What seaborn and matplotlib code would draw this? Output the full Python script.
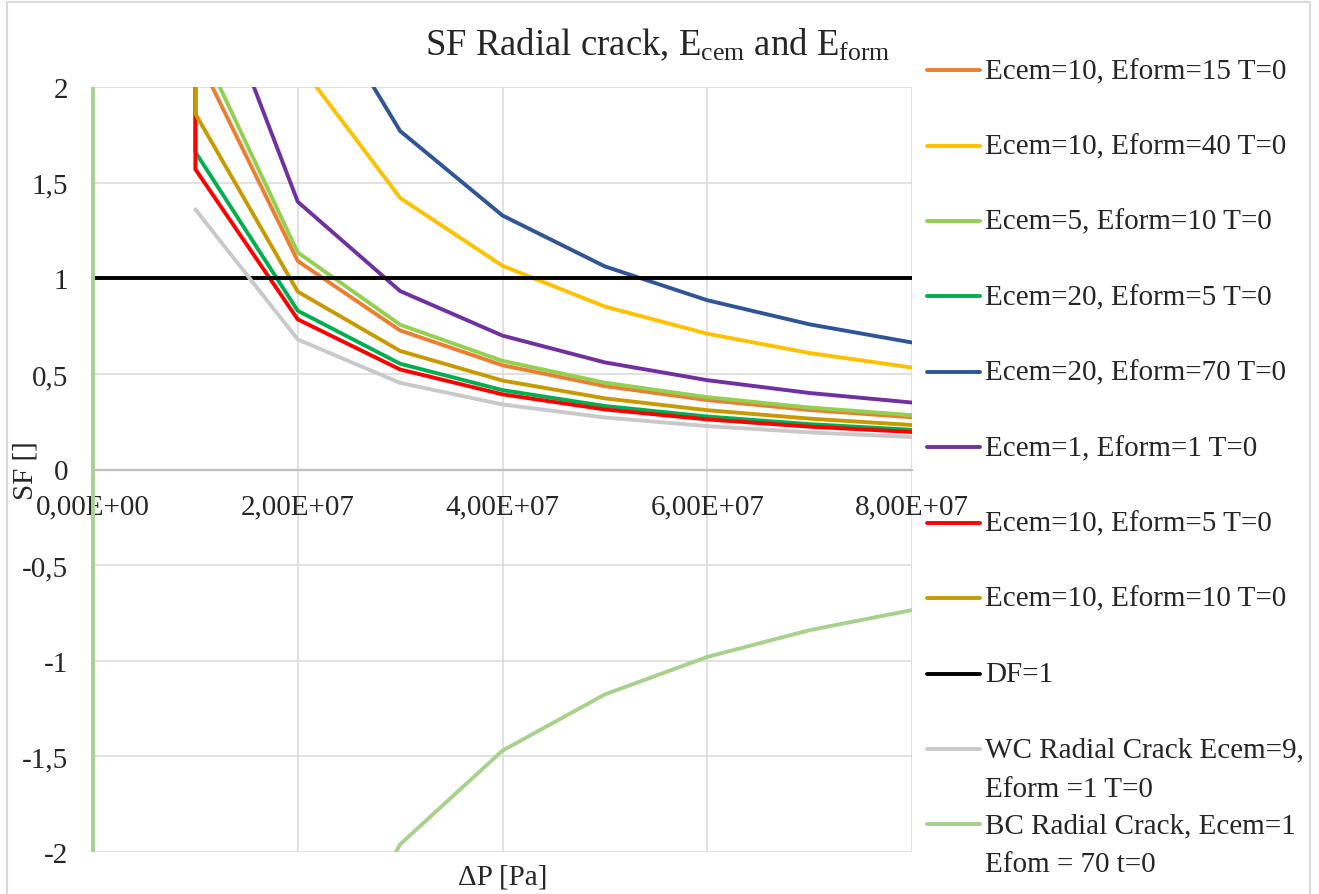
import numpy as np
import pandas as pd
import matplotlib
matplotlib.use("Agg")
import matplotlib.pyplot as plt
import seaborn as sns
from matplotlib.lines import Line2D
from matplotlib.legend_handler import HandlerLine2D
from matplotlib.patches import Rectangle
from matplotlib.transforms import Bbox, TransformedBbox

# Pressure differences [Pa]
dp = [1, 1e7, 2e7, 3e7, 4e7, 5e7, 6e7, 7e7, 8e7]
dp_wc = [1e7, 2e7, 3e7, 4e7, 5e7, 6e7, 7e7, 8e7]
dp_bc = [0, 1, 1e7, 2e7, 3e7, 4e7, 5e7, 6e7, 7e7, 8e7]
dp_df = [0, 8e7]

# Safety factors for each stiffness combination
sf_10_15 = [2.18e7, 2.18, 1.09, 0.727, 0.545, 0.436, 0.363, 0.311, 0.273]
sf_10_40 = [4.26e7, 4.26, 2.13, 1.42, 1.065, 0.852, 0.71, 0.609, 0.533]
sf_5_10 = [2.27e7, 2.27, 1.135, 0.757, 0.568, 0.454, 0.378, 0.324, 0.284]
sf_20_5 = [1.66e7, 1.66, 0.83, 0.553, 0.415, 0.332, 0.277, 0.237, 0.2075]
sf_20_70 = [5.31e7, 5.31, 2.655, 1.77, 1.328, 1.062, 0.885, 0.759, 0.664]
sf_1_1 = [2.8e7, 2.8, 1.4, 0.933, 0.7, 0.56, 0.467, 0.4, 0.35]
sf_10_5 = [1.57e7, 1.57, 0.785, 0.523, 0.393, 0.314, 0.262, 0.224, 0.196]
sf_10_10 = [1.86e7, 1.86, 0.93, 0.62, 0.465, 0.372, 0.31, 0.266, 0.2325]
sf_df = [1, 1]
sf_wc = [1.36, 0.68, 0.453, 0.34, 0.272, 0.227, 0.194, 0.17]
sf_bc = [5.88e7, -5.88e7, -5.88, -2.94, -1.96, -1.47, -1.176, -0.98, -0.84, -0.735]

labels = [
    "Ecem=10, Eform=15 T=0",
    "Ecem=10, Eform=40 T=0",
    "Ecem=5, Eform=10 T=0",
    "Ecem=20, Eform=5 T=0",
    "Ecem=20, Eform=70 T=0",
    "Ecem=1, Eform=1 T=0",
    "Ecem=10, Eform=5 T=0",
    "Ecem=10, Eform=10 T=0",
    "DF=1",
    "WC Radial Crack Ecem=9,\nEform =1 T=0",
    "BC Radial Crack, Ecem=1\nEfom = 70 t=0",
]
colors = ["#ED7D31", "#FFC000", "#92D050", "#00B050", "#2F5597", "#7030A0",
          "#FF0000", "#C99A00", "#000000", "#C9C9C9", "#A9D18E"]

y_ticks = [-2, -1.5, -1, -0.5, 0, 0.5, 1, 1.5, 2]
y_ticklabels = ["-2", "-1,5", "-1", "-0,5", "0", "0,5", "1", "1,5", "2"]
x_ticks = [0, 2e7, 4e7, 6e7, 8e7]
x_ticklabels = ["0,00E+00", "2,00E+07", "4,00E+07", "6,00E+07", "8,00E+07"]

xs = [dp, dp, dp, dp, dp, dp, dp, dp, dp_df, dp_wc, dp_bc]
ys = [sf_10_15, sf_10_40, sf_5_10, sf_20_5, sf_20_70, sf_1_1, sf_10_5,
      sf_10_10, sf_df, sf_wc, sf_bc]

frames = []
for lab, x, y in zip(labels, xs, ys):
    frames.append(pd.DataFrame({"dp": x, "sf": y, "series": lab}))
df = pd.concat(frames, ignore_index=True)

sns.set_theme(style="white")
plt.rcParams["font.family"] = ["Liberation Serif", "DejaVu Serif"]
plt.rcParams["mathtext.fontset"] = "custom"
plt.rcParams["mathtext.rm"] = "Liberation Serif"
plt.rcParams["mathtext.it"] = "Liberation Serif:italic"

fig = plt.figure(figsize=(13.19, 8.95), dpi=100)
ax = fig.add_axes([93 / 1319, 1 - 853 / 895, (912 - 93) / 1319, (853 - 88) / 895])

sns.lineplot(data=df, x="dp", y="sf", hue="series", hue_order=labels,
             palette=colors, sort=False, estimator=None, linewidth=2.8,
             legend=False, ax=ax)

ax.set_xlim(0, 8e7)
ax.set_ylim(-2, 2)
ax.set_xticks(x_ticks)
ax.set_xticklabels(x_ticklabels)
ax.set_yticks(y_ticks)
ax.set_yticklabels(y_ticklabels)
ax.tick_params(axis="x", length=0, pad=17, labelsize=21)
ax.tick_params(axis="y", length=0, pad=18, labelsize=21)
ax.grid(True, color="#D9D9D9", linewidth=1.1)
ax.set_axisbelow(True)

# let lines sitting on the left edge show at full width
clip = TransformedBbox(Bbox([[-0.004, 0.0], [1.0, 1.0]]), ax.transAxes)
for ln in ax.get_lines():
    ln.set_clip_box(clip)

for side in ["top", "right", "left"]:
    ax.spines[side].set_visible(False)
ax.spines["bottom"].set_position(("data", 0))
ax.spines["bottom"].set_color("#BFBFBF")
ax.spines["bottom"].set_linewidth(1.6)

ax.set_xlabel("ΔP [Pa]", fontsize=21, va="top")
ax.xaxis.set_label_coords(0.5, -0.015)
ax.set_ylabel("SF []", fontsize=21)
ax.yaxis.set_label_coords(-0.067, 0.5)

fig.text(658 / 1319, 1 - 55 / 895,
         r"SF Radial crack, E$_{\mathrm{cem}}$ and E$_{\mathrm{form}}$",
         ha="center", va="baseline", fontsize=26.5)


class FirstLineHandler(HandlerLine2D):
    """Line handle aligned with the first row of a two-row label."""

    def __init__(self, shift, **kw):
        super().__init__(**kw)
        self.shift = shift

    def create_artists(self, legend, orig_handle, xdescent, ydescent,
                       width, height, fontsize, trans):
        arts = super().create_artists(legend, orig_handle, xdescent, ydescent,
                                      width, height, fontsize, trans)
        for a in arts:
            a.set_ydata(np.asarray(a.get_ydata()) + self.shift * fontsize)
        return arts


handles = list(ax.get_lines())[:len(labels)]
leg_labels = [lab if "\n" in lab else lab + "\n " for lab in labels]
leg = fig.legend(handles, leg_labels, loc="upper left",
                 bbox_to_anchor=(927 / 1319, 1 - 59 / 895),
                 bbox_transform=fig.transFigure, frameon=False,
                 fontsize=21, handlelength=1.83, handletextpad=0.17,
                 labelspacing=0.35, borderpad=0, borderaxespad=0,
                 handler_map={Line2D: FirstLineHandler(0.69)})
for t in leg.get_texts():
    t.set_linespacing(1.66)
for h in leg.legend_handles:
    h.set_linewidth(2.8)

fig.patches.append(Rectangle((7 / 1319, -0.01), (1310 - 7) / 1319, 1 - 3 / 895 + 0.01,
                             transform=fig.transFigure, fill=False,
                             edgecolor="#D9D9D9", linewidth=1.5))

fig.savefig("out.png", dpi=100)
